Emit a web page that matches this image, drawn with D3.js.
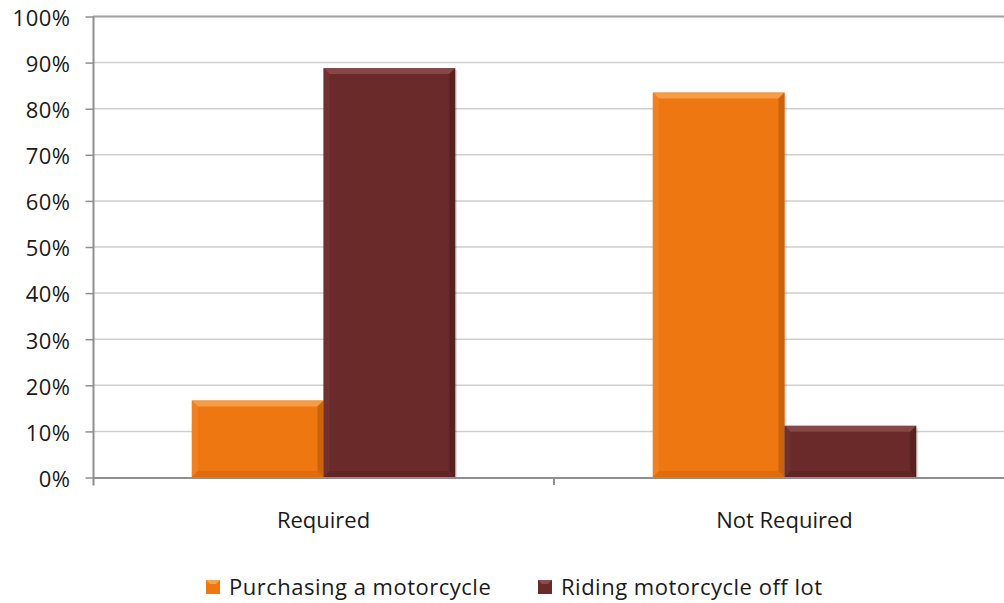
<!DOCTYPE html>
<html><head><meta charset="utf-8">
<script src="https://cdn.jsdelivr.net/npm/d3@7"></script>
<style>body{margin:0;background:#fff}svg{display:block}text{font-family:"Open Sans",sans-serif;fill:#1a1a1a}</style>
</head><body><svg id="c" width="1004" height="603"></svg>
<script>
const categories = ["Required", "Not Required"];
const seriesNames = ["Purchasing a motorcycle", "Riding motorcycle off lot"];
const purchasing = [16.6, 83.4];
const riding = [88.7, 11.1];
const yTicks = [0,10,20,30,40,50,60,70,80,90,100];

const colors = ["#EF7712", "#6A2A2A"];
const light = ["#F9A24E", "#8C4C4C"];
const side = ["#F38A30", "#7A3737"];
const dark = ["#B85708", "#4E1C1C"];

const svg = d3.select("#c");
const y = d3.scaleLinear().domain([0,100]).range([477,16]);
const x0 = d3.scaleBand().domain(categories).range([93,1015]);
const x1 = d3.scaleBand().domain(seriesNames).range([0,x0.bandwidth()]).paddingOuter(0.75);

// gridlines
svg.append("g").selectAll("line").data(yTicks.filter(d=>d>0)).join("line")
  .attr("x1",93).attr("x2",1004).attr("y1",d=>y(d)+0.5).attr("y2",d=>y(d)+0.5)
  .attr("stroke",d=>d===100?"#a0a0a0":"#cfcfcf").attr("stroke-width",d=>d===100?2:1.5);

// y axis
const yAxis = d3.axisLeft(y).tickValues(yTicks).tickSize(8).tickFormat(d=>d+"%");
const gy = svg.append("g").attr("transform","translate(93.5,0.5)").call(yAxis);
gy.select(".domain").attr("d","M0,"+y(100)+"V485").attr("stroke","#8f8f8f").attr("stroke-width",2);
gy.selectAll(".tick line").attr("stroke","#8f8f8f").attr("stroke-width",1.5);
gy.selectAll(".tick text").attr("x",-23).attr("font-size",22).attr("letter-spacing",0.5)
  .attr("font-family","'Open Sans',sans-serif").attr("fill","#1a1a1a").attr("dy","0.4em");

// bars
const data = [];
categories.forEach((c,i)=>{
  data.push({cat:c, s:0, v:purchasing[i]});
  data.push({cat:c, s:1, v:riding[i]});
});
const bw = 6;
const bars = svg.append("g").selectAll("g").data(data).join("g");
bars.each(function(d){
  const g = d3.select(this);
  const xl = x0(d.cat)+x1(seriesNames[d.s]);
  const w = x1.bandwidth();
  const yt = y(d.v), yb = y(0);
  g.append("rect").attr("x",xl+2).attr("y",yt+2).attr("width",w).attr("height",yb-yt-2).attr("fill","#000").attr("opacity",0.12);
  g.append("rect").attr("x",xl).attr("y",yt).attr("width",w).attr("height",yb-yt).attr("fill",colors[d.s]);
  const xr = xl+w;
  const poly = (pts,fill,op)=>g.append("polygon").attr("points",pts.map(p=>p.join(",")).join(" ")).attr("fill",fill).attr("opacity",op);
  poly([[xl,yt],[xr,yt],[xr-bw,yt+bw],[xl+bw,yt+bw]], light[d.s], 0.85);
  poly([[xl,yt],[xl+bw,yt+bw],[xl+bw,yb-bw],[xl,yb]], side[d.s], 0.5);
  poly([[xr,yt],[xr,yb],[xr-bw,yb-bw],[xr-bw,yt+bw]], dark[d.s], 0.65);
  poly([[xl,yb],[xr,yb],[xr-bw,yb-bw],[xl+bw,yb-bw]], dark[d.s], 0.3);
});

// x axis
svg.append("line").attr("x1",93).attr("x2",1004).attr("y1",478).attr("y2",478).attr("stroke","#8f8f8f").attr("stroke-width",2);
svg.append("g").selectAll("line").data(categories.slice(1)).join("line")
  .attr("x1",d=>x0(d)).attr("x2",d=>x0(d)).attr("y1",478).attr("y2",485).attr("stroke","#8f8f8f").attr("stroke-width",2);
svg.append("g").selectAll("text").data(categories).join("text")
  .attr("x",d=>x0(d)+x0.bandwidth()/2).attr("y",528).attr("text-anchor","middle").attr("font-size",22).text(d=>d);

// legend
const legX = [206, 538];
const lg = svg.append("g").selectAll("g").data(seriesNames).join("g").attr("transform",(d,i)=>`translate(${legX[i]},580)`);
lg.append("rect").attr("width",14).attr("height",14).attr("fill",(d,i)=>colors[i]);
lg.append("polygon").attr("points","0,0 14,0 10,4 4,4").attr("fill",(d,i)=>light[i]);
lg.append("text").attr("x",23).attr("y",15).attr("font-size",22).attr("letter-spacing",0.5).text(d=>d);
</script></body></html>
